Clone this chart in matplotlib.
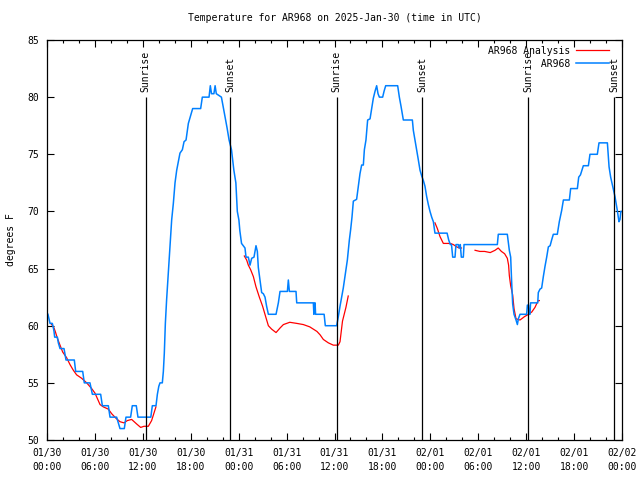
import numpy as np
import matplotlib
matplotlib.use('Agg')
import matplotlib.pyplot as plt
import matplotlib.dates as mdates

plt.rcParams['font.family'] = ['DejaVu Sans Mono']
plt.rcParams['font.size'] = 7

start = np.datetime64('2025-01-30T00:00')

# AR968 station obs (hours after start, deg F)
obs_hours = [0.12, 0.25, 0.38, 0.67, 0.8, 0.88, 0.96, 1.3, 1.42, 1.63, 2.13, 2.38, 3.42, 3.59,
             4.47, 4.67, 5.38, 5.68, 6.72, 6.93, 7.68, 7.89, 8.72, 9.14, 9.68, 9.89, 10.47, 10.68,
             11.18, 11.39, 13.0, 13.19, 13.65, 13.82, 14.0, 14.15, 14.44, 14.57, 14.69, 14.82,
             14.98, 15.19, 15.4, 15.61, 15.82, 16.03, 16.24, 16.65, 16.95, 17.16, 17.41, 17.7,
             17.99, 18.24, 19.24, 19.45, 20.29, 20.45, 20.6, 20.9, 21.05, 21.2, 21.84, 22.05,
             22.34, 22.55, 22.8, 23.1, 23.4, 23.65, 23.75, 23.83, 24.03, 24.15, 24.36, 24.57,
             24.79, 24.92, 25.21, 25.42, 25.63, 25.92, 26.17, 26.34, 26.46, 26.67, 26.88, 27.09,
             27.3, 27.5, 27.72, 28.68, 28.97, 29.18, 30.1, 30.22, 30.35, 31.18, 31.27, 33.35,
             33.42, 33.5, 33.57, 33.63, 34.7, 34.85, 36.27, 36.48, 36.69, 36.9, 37.1, 37.44,
             37.61, 37.86, 38.02, 38.19, 38.36, 38.77, 38.98, 39.19, 39.4, 39.61, 39.74, 39.94,
             40.15, 40.45, 40.66, 40.86, 41.07, 41.28, 41.45, 41.62, 42.03, 42.2, 42.41, 43.91,
             44.12, 44.33, 44.62, 45.75, 45.87, 46.08, 46.29, 46.5, 46.71, 46.92, 47.13, 47.33,
             47.54, 47.75, 47.96, 48.17, 48.38, 48.58, 50.1, 50.3, 50.5, 50.65, 50.8, 51.09,
             51.21, 51.5, 51.6, 51.75, 51.88, 52.13, 52.22, 56.39, 56.51, 57.64, 57.89, 58.06,
             58.19, 58.31, 58.48, 58.73, 58.9, 59.02, 59.23, 60.06, 60.15, 60.3, 60.35, 60.48,
             60.55, 61.45, 61.52, 61.73, 61.94, 62.15, 62.36, 62.57, 62.78, 63.0, 63.19, 63.4,
             63.9, 64.15, 64.45, 64.66, 65.41, 65.57, 66.41, 66.58, 66.8, 67.16, 67.79, 67.99,
             68.91, 69.12, 70.17, 70.38, 70.58, 70.83, 71.12, 71.41, 71.62, 71.75, 71.85, 72.0]
obs_temp = [61.0, 60.6, 60.2, 60.2, 59.8, 59.5, 59.0, 59.0, 58.5, 58.0, 58.0, 57.0, 57.0, 56.0,
            56.0, 55.0, 55.0, 54.0, 54.0, 53.0, 53.0, 52.0, 52.0, 51.0, 51.0, 52.0, 52.0, 53.0,
            53.0, 52.0, 52.0, 53.0, 53.0, 54.0, 54.7, 55.0, 55.0, 56.0, 57.6, 60.2,
            62.3, 64.6, 66.9, 69.25, 70.7, 72.5, 73.6, 75.1, 75.4, 76.1, 76.25, 77.7,
            78.4, 79.0, 79.0, 80.0, 80.0, 81.0, 80.3, 80.3, 81.0, 80.3, 80.0, 79.2,
            78.1, 77.3, 76.25, 75.4, 73.6, 72.5, 71.0, 70.0, 69.25, 68.3, 67.2, 67.0,
            66.8, 66.0, 66.0, 65.3, 65.9, 66.0, 67.0, 66.5, 65.1, 64.0, 62.9, 62.8,
            62.5, 61.7, 61.0, 61.0, 62.0, 63.0, 63.0, 64.0, 63.0, 63.0, 62.0, 62.0,
            61.0, 62.0, 62.0, 61.0, 61.0, 60.0, 60.0, 60.8, 61.7, 62.5, 63.3, 64.9,
            65.75, 67.5, 68.4, 69.5, 70.9, 71.06, 72.2, 73.3, 74.06, 74.06, 75.4, 76.25,
            78.0, 78.1, 79.0, 79.9, 80.5, 81.0, 80.3, 80.0, 80.0, 80.5, 81.0, 81.0,
            80.0, 79.2, 78.0, 78.0, 77.1, 76.25, 75.4, 74.5, 73.6, 73.1, 72.7, 72.2,
            71.3, 70.6, 70.0, 69.5, 69.1, 68.1, 68.1, 67.5, 67.1, 67.1, 66.0, 66.0,
            67.1, 67.1, 66.8, 67.1, 66.0, 66.0, 67.1, 67.1, 68.0, 68.0, 66.6, 66.0,
            63.7, 61.9, 61.0, 60.5, 60.1, 60.6, 61.0, 61.0, 61.8, 61.8, 61.0, 61.0,
            62.0, 62.0, 62.9, 63.2, 63.3, 64.3, 65.2, 66.0, 66.9, 67.0, 67.5, 68.0,
            68.0, 69.1, 70.1, 71.0, 71.0, 72.0, 72.0, 73.0, 73.2, 74.0, 74.0, 75.0,
            75.0, 76.0, 76.0, 73.9, 73.0, 72.2, 71.3, 70.1, 69.1, 69.3, 70.0, 70.0]

# analysis (nan = no analysis)
nan = float('nan')
ana_hours = [0.5, 0.88, 1.08, 1.3, 1.63, 1.96, 2.46, 2.88, 3.3, 3.71, 4.34, 4.97, 5.59, 6.01,
             6.64, 7.05, 7.68, 8.1, 8.64, 9.14, 9.64, 10.06, 10.6, 11.23, 11.73, 12.15, 12.69,
             13.1, 13.64, 20.0,
             24.71, 25.0, 25.21, 25.5, 25.84, 26.17, 26.59, 27.0, 27.42, 27.72, 28.13, 28.68,
             29.18, 29.6, 30.4, 31.3, 32.1, 32.9, 33.8, 34.2, 34.6, 35.23, 35.85, 36.48, 36.69,
             37.0, 37.43, 37.72, 44.0,
             48.58, 48.88, 49.21, 49.63, 50.05, 50.5, 50.88, 51.3, 51.63, 51.9, 52.8,
             53.6, 54.2, 54.8, 55.5, 56.1, 56.5, 56.9, 57.3, 57.64, 57.8, 57.89, 58.06, 58.31,
             58.48, 58.73, 59.23, 59.8, 60.3, 60.7, 61.1, 61.5, 61.65]
ana_temp = [60.2, 59.8, 59.4, 58.9, 58.3, 57.7, 57.2, 56.6, 56.1, 55.7, 55.4, 55.0, 54.5, 54.1,
            53.1, 52.9, 52.7, 52.3, 51.9, 51.6, 51.5, 51.7, 51.8, 51.4, 51.1, 51.2, 51.2,
            51.7, 52.9, nan,
            66.1, 65.75, 65.3, 64.9, 64.3, 63.4, 62.5, 61.7, 60.7, 60.0, 59.7, 59.4,
            59.8, 60.1, 60.3, 60.2, 60.1, 59.9, 59.5, 59.2, 58.8, 58.5, 58.3, 58.3, 58.6,
            60.4, 61.6, 62.6, nan,
            69.0, 68.5, 67.8, 67.2, 67.2, 67.2, 67.1, 66.9, 66.8, 66.8, nan,
            66.6, 66.5, 66.5, 66.4, 66.6, 66.8, 66.5, 66.3, 65.9, 65.3, 64.4, 63.5, 62.7,
            61.5, 60.6, 60.5, 60.8, 61.0, 61.2, 61.6, 62.2, 62.2]

sunrise_hours = [12.35, 36.27, 60.27]
sunset_hours = [22.96, 47.0, 71.0]


def to_time(h):
    return start + (np.array(h) * 3600).astype('timedelta64[s]')


fig = plt.figure(figsize=(6.4, 4.8), dpi=100)
ax = fig.add_axes([47 / 640, 40 / 480, 575 / 640, 400 / 480])

# labels padded so the monospace text lines up on the right like gnuplot's key
ax.plot(to_time(ana_hours), ana_temp, color='#ff0000', lw=0.9, label='AR968 Analysis')
ax.plot(to_time(obs_hours), obs_temp, color='#0080ff', lw=1.1, label='         AR968')

for hrs, name in [(sunrise_hours, 'Sunrise'), (sunset_hours, 'Sunset')]:
    ax.vlines(to_time(hrs), 50, 80, color='black', lw=0.9)
    for t in to_time(hrs):
        ax.text(t, 80.45, name, rotation=90, ha='center', va='bottom')

ax.set_xlim(to_time([0])[0], to_time([72])[0])
ax.set_ylim(50, 85)
ax.set_yticks(range(50, 86, 5))
ax.xaxis.set_major_locator(mdates.HourLocator(byhour=range(0, 24, 6)))
ax.xaxis.set_minor_locator(mdates.HourLocator(byhour=range(0, 24, 2)))
ax.xaxis.set_major_formatter(mdates.DateFormatter('%m/%d\n%H:%M'))
ax.tick_params(which='both', direction='in', top=True, right=True, width=0.8)
ax.tick_params(which='major', length=5, pad=6)
ax.tick_params(which='minor', length=2.5)
for s in ax.spines.values():
    s.set_linewidth(0.9)

ax.set_ylabel('degrees F', labelpad=8)
ax.set_title('Temperature for AR968 on 2025-Jan-30 (time in UTC)', fontsize=7, pad=14)

ax.legend(loc='upper right', bbox_to_anchor=(0.99, 1.003), frameon=False, markerfirst=False,
          handlelength=3.4, handletextpad=0.6, labelspacing=0.3, borderaxespad=0.4,
          borderpad=0.3)

fig.canvas.draw()
for tk in ax.xaxis.get_major_ticks():
    tk.label1.set_linespacing(1.45)

fig.savefig('out.png', dpi=100)
